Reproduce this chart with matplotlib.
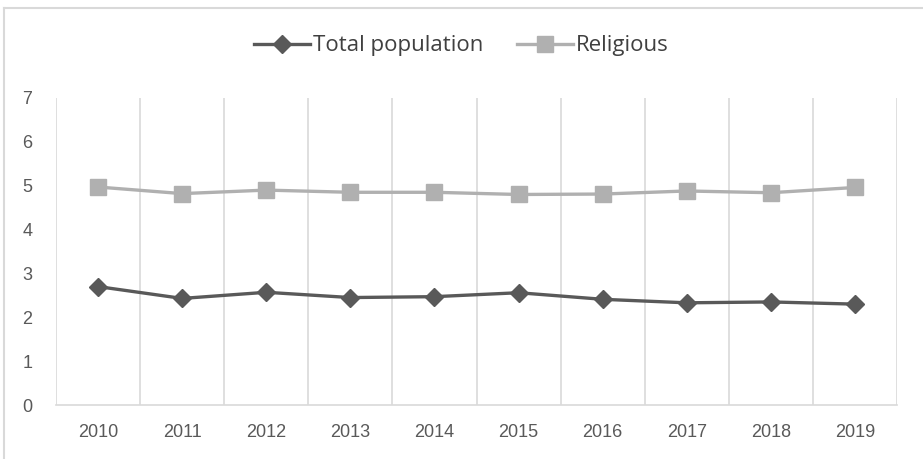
import matplotlib.pyplot as plt
from matplotlib.lines import Line2D
import numpy as np

years = ["2010", "2011", "2012", "2013", "2014", "2015", "2016", "2017", "2018", "2019"]
total_population = [2.70, 2.43, 2.57, 2.45, 2.47, 2.56, 2.41, 2.33, 2.35, 2.30]
religious = [4.97, 4.82, 4.90, 4.85, 4.85, 4.80, 4.81, 4.88, 4.84, 4.96]

DARK = "#595959"
LIGHT = "#B0B0B0"
GRID = "#D9D9D9"
TEXT = "#595959"

plt.rcParams['font.family'] = ['Liberation Sans', 'DejaVu Sans']

fig = plt.figure(figsize=(9.23, 4.59), dpi=100)
ax = fig.add_axes([56 / 923, 54 / 459, 841 / 923, 307 / 459])

x = np.arange(len(years))
ax.plot(x, total_population, color=DARK, linewidth=2.4, marker="D",
        markersize=9, label="Total population", zorder=3)
ax.plot(x, religious, color=LIGHT, linewidth=2.4, marker="s",
        markersize=12, label="Religious", zorder=3)

ax.set_xlim(-0.5, len(years) - 0.5)
ax.set_ylim(0, 7)
ax.set_yticks(range(0, 8))
ax.set_xticks(x)
ax.set_xticklabels(years)

# vertical gridlines sit between the categories
ax.set_xticks(np.arange(-0.5, len(years)), minor=True)
ax.grid(which="minor", axis="x", color=GRID, linewidth=1.2)
ax.grid(which="major", axis="both", visible=False)

for side in ["top", "right", "left"]:
    ax.spines[side].set_visible(False)
ax.spines["bottom"].set_color(GRID)
ax.spines["bottom"].set_linewidth(1.2)

ax.tick_params(axis="both", which="both", length=0, colors=TEXT, labelsize=13)
ax.tick_params(axis="x", pad=14)
ax.tick_params(axis="y", pad=17)

leg = fig.legend(loc="center", bbox_to_anchor=(0.5, (459 - 46) / 459), ncol=2,
                 frameon=False, handlelength=2.5, handletextpad=0.15,
                 columnspacing=1.5, labelcolor="#404040",
                 prop={"family": ["Open Sans", "DejaVu Sans"], "size": 16})

# light frame around the chart area
fig.add_artist(Line2D([4 / 923, 4 / 923], [0, 1 - 7.5 / 459],
                      transform=fig.transFigure, color=GRID, linewidth=1.5))
fig.add_artist(Line2D([4 / 923, 1], [1 - 7.5 / 459, 1 - 7.5 / 459],
                      transform=fig.transFigure, color=GRID, linewidth=1.5))

fig.savefig("out.png", dpi=100, facecolor="white")
